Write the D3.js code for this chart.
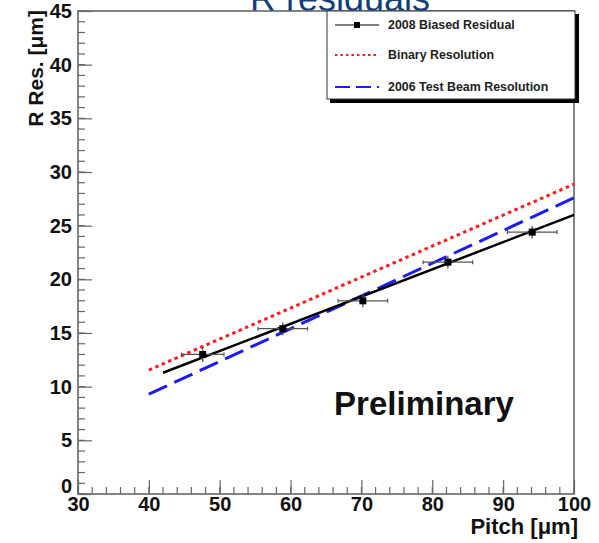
<!DOCTYPE html>
<html>
<head>
<meta charset="utf-8">
<script src="https://cdn.jsdelivr.net/npm/d3@7"></script>
<style>
  body { margin: 0; background: #fff; }
  svg { display: block; font-family: "Liberation Sans", Arial, sans-serif; }
</style>
</head>
<body>
<script>
// data
const pitch = [47.6, 58.9, 70.2, 82.2, 94.1];
const residual = [13.0, 15.4, 18.0, 21.6, 24.4];
const pitchErr = [3.0, 3.5, 3.5, 3.5, 3.5];
const residualErr = [0.7, 0.6, 0.6, 0.6, 0.6];

const fitPitch = [42, 100];
const fitValue = [11.3, 26.0];

const binaryPitch = [40, 100];
const binaryValue = [11.55, 28.87];

const beamPitch = [40, 100];
const beamValue = [9.3, 27.6];

const xTicks = [30, 40, 50, 60, 70, 80, 90, 100];
const yTicks = [0, 5, 10, 15, 20, 25, 30, 35, 40, 45];

const W = 599, H = 543;
const svg = d3.select('body').append('svg')
  .attr('width', W).attr('height', H);

const x = d3.scaleLinear().domain([30, 100]).range([78, 574]);
const y = d3.scaleLinear().domain([0, 45]).range([494, 11]);

// title, cropped by the top edge as in the original slide
svg.append('text')
  .attr('x', 430).attr('y', 11)
  .attr('text-anchor', 'end')
  .attr('font-size', 36)
  .attr('fill', '#123f7c')
  .text('R residuals');

const frameColor = '#666';

// minor ticks
const xMinor = d3.range(30, 100.01, 2);
const yMinor = d3.range(0, 45.01, 1);
svg.append('g').selectAll('line').data(xMinor).enter().append('line')
  .attr('x1', d => x(d)).attr('x2', d => x(d))
  .attr('y1', y(0)).attr('y2', y(0) - 7)
  .attr('stroke', frameColor).attr('stroke-width', 1.2);
svg.append('g').selectAll('line').data(yMinor).enter().append('line')
  .attr('x1', x(30)).attr('x2', x(30) + 7)
  .attr('y1', d => y(d)).attr('y2', d => y(d))
  .attr('stroke', frameColor).attr('stroke-width', 1.2);

// major ticks + labels via d3 axes
const xAxis = svg.append('g')
  .attr('transform', `translate(0,${y(0)})`)
  .call(d3.axisBottom(x).tickValues(xTicks).tickSize(-14).tickPadding(3).tickFormat(d3.format('d')));
const yAxis = svg.append('g')
  .attr('transform', `translate(${x(30)},0)`)
  .call(d3.axisLeft(y).tickValues(yTicks).tickSize(-14).tickPadding(6).tickFormat(d3.format('d')));

[xAxis, yAxis].forEach(a => {
  a.select('.domain').remove();
  a.selectAll('.tick line').attr('stroke', frameColor).attr('stroke-width', 1.2);
  a.selectAll('.tick text')
    .attr('font-family', '"Liberation Sans", Arial, sans-serif')
    .attr('font-size', 20).attr('font-weight', 'bold').attr('fill', '#111');
});
// ROOT-style lifted zero label
yAxis.selectAll('.tick').filter(d => d === 0).select('text').attr('dy', '-0.1em');

// frame
svg.append('rect')
  .attr('x', x(30)).attr('y', y(45))
  .attr('width', x(100) - x(30)).attr('height', y(0) - y(45))
  .attr('fill', 'none').attr('stroke', frameColor).attr('stroke-width', 1.6);

// axis titles
svg.append('text')
  .attr('transform', `translate(43,${y(45) - 1}) rotate(-90)`)
  .attr('text-anchor', 'end')
  .attr('font-size', 21).attr('font-weight', 'bold').attr('fill', '#111')
  .text('R Res. [μm]');
svg.append('text')
  .attr('x', 578).attr('y', 534)
  .attr('text-anchor', 'end')
  .attr('font-size', 22).attr('font-weight', 'bold').attr('fill', '#111')
  .text('Pitch [μm]');

const line = d3.line().x(d => x(d[0])).y(d => y(d[1]));

// binary resolution (red dotted)
svg.append('path')
  .datum(d3.zip(binaryPitch, binaryValue))
  .attr('d', line)
  .attr('fill', 'none').attr('stroke', '#ff1a1a').attr('stroke-width', 3)
  .attr('stroke-dasharray', '3.5,3.5');

// 2006 test beam (blue dashed)
svg.append('path')
  .datum(d3.zip(beamPitch, beamValue))
  .attr('d', line)
  .attr('fill', 'none').attr('stroke', '#1a1aff').attr('stroke-width', 3)
  .attr('stroke-dasharray', '20,8');

// fit through 2008 residuals (black)
svg.append('path')
  .datum(d3.zip(fitPitch, fitValue))
  .attr('d', line)
  .attr('fill', 'none').attr('stroke', '#000').attr('stroke-width', 2.5);

// data points with error bars
const pts = pitch.map((p, i) => ({ p, v: residual[i], ep: pitchErr[i], ev: residualErr[i] }));
const g = svg.append('g').selectAll('g').data(pts).enter().append('g');
g.append('line')
  .attr('x1', d => x(d.p - d.ep)).attr('x2', d => x(d.p + d.ep))
  .attr('y1', d => y(d.v)).attr('y2', d => y(d.v))
  .attr('stroke', '#555').attr('stroke-width', 1.3);
g.append('line')
  .attr('x1', d => x(d.p)).attr('x2', d => x(d.p))
  .attr('y1', d => y(d.v - d.ev)).attr('y2', d => y(d.v + d.ev))
  .attr('stroke', '#555').attr('stroke-width', 1.3);
g.append('line')
  .attr('x1', d => x(d.p - d.ep)).attr('x2', d => x(d.p - d.ep))
  .attr('y1', d => y(d.v) - 2).attr('y2', d => y(d.v) + 2)
  .attr('stroke', '#555').attr('stroke-width', 1.2);
g.append('line')
  .attr('x1', d => x(d.p + d.ep)).attr('x2', d => x(d.p + d.ep))
  .attr('y1', d => y(d.v) - 2).attr('y2', d => y(d.v) + 2)
  .attr('stroke', '#555').attr('stroke-width', 1.2);
g.append('rect')
  .attr('x', d => x(d.p) - 3.5).attr('y', d => y(d.v) - 3.5)
  .attr('width', 7).attr('height', 7)
  .attr('fill', '#000');

// Preliminary label
svg.append('text')
  .attr('x', 424).attr('y', 415)
  .attr('text-anchor', 'middle')
  .attr('font-size', 33).attr('font-weight', 'bold').attr('fill', '#111')
  .text('Preliminary');

// legend with ROOT-style shadow
const legend = svg.append('g');
legend.append('rect')
  .attr('x', 330).attr('y', 14).attr('width', 249).attr('height', 89)
  .attr('fill', '#000');
legend.append('rect')
  .attr('x', 327).attr('y', 11).attr('width', 248).attr('height', 88)
  .attr('fill', '#fff').attr('stroke', '#333').attr('stroke-width', 1);

const entries = [
  { label: '2008 Biased Residual', color: '#555', dash: null, width: 1.3, marker: true },
  { label: 'Binary Resolution', color: '#ff1a1a', dash: '2.5,3', width: 2, marker: false },
  { label: '2006 Test Beam Resolution', color: '#1a1aff', dash: '15,6', width: 2.2, marker: false }
];
const ey = [25, 55, 87];
entries.forEach((e, i) => {
  const ln = legend.append('line')
    .attr('x1', 335).attr('x2', 379)
    .attr('y1', ey[i]).attr('y2', ey[i])
    .attr('stroke', e.color).attr('stroke-width', e.width);
  if (e.dash) ln.attr('stroke-dasharray', e.dash);
  if (e.marker) {
    legend.append('rect')
      .attr('x', 354).attr('y', ey[i] - 3).attr('width', 6).attr('height', 6)
      .attr('fill', '#000');
  }
  legend.append('text')
    .attr('x', 388).attr('y', ey[i] + 4)
    .attr('font-size', 12.4).attr('font-weight', 'bold').attr('fill', '#222')
    .text(e.label);
});
</script>
</body>
</html>
